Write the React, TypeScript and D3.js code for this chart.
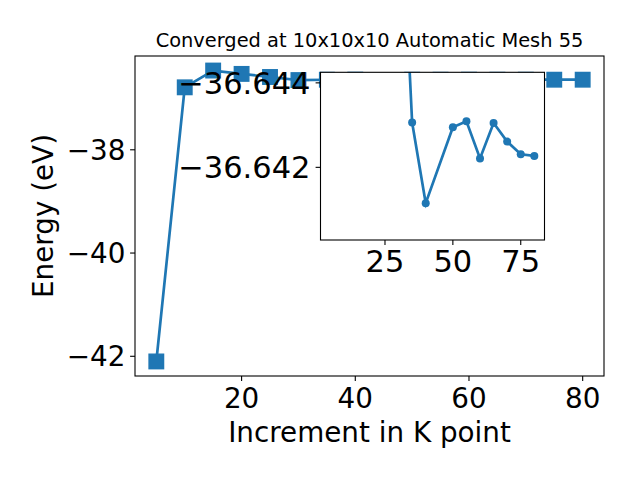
import React from "react";
import * as d3 from "d3";

const kPoints = [5, 10, 15, 20, 25, 30, 35, 40, 50, 55, 60, 65, 70, 75, 80];
const energies = [
  -42.1, -36.79, -36.465, -36.53, -36.59, -36.6497, -36.64306, -36.64115,
  -36.64295, -36.64309, -36.64221, -36.64305, -36.64261, -36.64231, -36.64227,
];
const insetFromK = 30;
const mainXTicks = [20, 40, 60, 80];
const mainYTicks = [-42, -40, -38];
const insetXTicks = [25, 50, 75];
const insetYTicks = [-36.644, -36.642];
const insetYLim = [-36.64425, -36.64028];
const titleText = "Converged at 10x10x10 Automatic Mesh 55";
const xLabelText = "Increment in K point";
const yLabelText = "Energy (eV)";

const BLUE = "#1f77b4";
const FONT = "DejaVu Sans";

const fmtMinus = (s: string) => s.replace("-", "\u2212");

export default function App() {
  const W = 640, H = 480;
  const L = 135, R = 604, T = 56, B = 376;
  const iL = 320.5, iR = 544.5, iT = 72.3, iB = 240;

  const xExt = d3.extent(kPoints) as [number, number];
  const yExt = d3.extent(energies) as [number, number];
  const xPad = (xExt[1] - xExt[0]) * 0.05;
  const yPad = (yExt[1] - yExt[0]) * 0.05;

  const x = d3.scaleLinear().domain([xExt[0] - xPad, xExt[1] + xPad]).range([L, R]);
  const y = d3.scaleLinear().domain([yExt[0] - yPad, yExt[1] + yPad]).range([B, T]);

  const ix = d3.scaleLinear().domain([xExt[0] - xPad, xExt[1] + xPad]).range([iL, iR]);
  const iy = d3.scaleLinear().domain(insetYLim).range([iT, iB]);

  const pts = kPoints.map((k, i) => [k, energies[i]] as [number, number]);
  const insetPts = pts.filter((d) => d[0] >= insetFromK);
  const mainLine = d3.line<[number, number]>().x((d) => x(d[0])).y((d) => y(d[1]))(pts) || "";
  const insetLine = d3.line<[number, number]>().x((d) => ix(d[0])).y((d) => iy(d[1]))(insetPts) || "";

  const tickLen = 4.9;
  const sq = 14.5;

  return (
    <svg
      width={W}
      height={H}
      style={{ position: "absolute", left: 0, top: 0, background: "#fff" }}
      fontFamily={FONT}
    >
      <rect x={0} y={0} width={W} height={H} fill="#fff" />
      <defs>
        <clipPath id="mainClip">
          <rect x={L} y={T} width={R - L} height={B - T} />
        </clipPath>
        <clipPath id="insetClip">
          <rect x={iL} y={iT} width={iR - iL} height={iB - iT} />
        </clipPath>
      </defs>

      {/* main plot */}
      <g clipPath="url(#mainClip)">
        <path d={mainLine} fill="none" stroke={BLUE} strokeWidth={2.7} />
        {pts.map((d, i) => (
          <rect
            key={i}
            x={x(d[0]) - sq / 2}
            y={y(d[1]) - sq / 2}
            width={sq}
            height={sq}
            fill={BLUE}
            stroke={BLUE}
            strokeWidth={1.4}
          />
        ))}
      </g>
      <rect x={L} y={T} width={R - L} height={B - T} fill="none" stroke="#000" strokeWidth={1.1} />

      {mainXTicks.map((t) => (
        <g key={t}>
          <line x1={x(t)} x2={x(t)} y1={B} y2={B + tickLen} stroke="#000" strokeWidth={1.1} />
          <text x={x(t)} y={407.6} fontSize={27.8} textAnchor="middle" fill="#000">
            {fmtMinus(String(t))}
          </text>
        </g>
      ))}
      {mainYTicks.map((t) => (
        <g key={t}>
          <line x1={L - tickLen} x2={L} y1={y(t)} y2={y(t)} stroke="#000" strokeWidth={1.1} />
          <text x={125.5} y={y(t) + 10.1} fontSize={27.8} textAnchor="end" fill="#000">
            {fmtMinus(String(t))}
          </text>
        </g>
      ))}

      <text x={(L + R) / 2} y={442} fontSize={27.8} textAnchor="middle" fill="#000">
        {xLabelText}
      </text>
      <text
        transform={`translate(53.3, ${(T + B) / 2}) rotate(-90)`}
        fontSize={27.8}
        textAnchor="middle"
        fill="#000"
      >
        {yLabelText}
      </text>
      <text x={(L + R) / 2} y={47.3} fontSize={19.4} textAnchor="middle" fill="#000">
        {titleText}
      </text>

      {/* inset */}
      <rect x={iL} y={iT} width={iR - iL} height={iB - iT} fill="#fff" />
      <g clipPath="url(#insetClip)">
        <path d={insetLine} fill="none" stroke={BLUE} strokeWidth={2.7} />
        {insetPts.map((d, i) => (
          <circle key={i} cx={ix(d[0])} cy={iy(d[1])} r={4} fill={BLUE} />
        ))}
      </g>
      <rect x={iL} y={iT} width={iR - iL} height={iB - iT} fill="none" stroke="#000" strokeWidth={1.1} />
      {insetXTicks.map((t) => (
        <g key={t}>
          <line x1={ix(t)} x2={ix(t)} y1={iB} y2={iB + tickLen} stroke="#000" strokeWidth={1.1} />
          <text x={ix(t)} y={272} fontSize={30.5} textAnchor="middle" fill="#000">
            {String(t)}
          </text>
        </g>
      ))}
      {insetYTicks.map((t) => (
        <g key={t}>
          <line x1={iL - tickLen} x2={iL} y1={iy(t)} y2={iy(t)} stroke="#000" strokeWidth={1.1} />
          <text x={310.5} y={iy(t) + 11} fontSize={30.5} textAnchor="end" fill="#000">
            {fmtMinus(t.toFixed(3))}
          </text>
        </g>
      ))}
    </svg>
  );
}
